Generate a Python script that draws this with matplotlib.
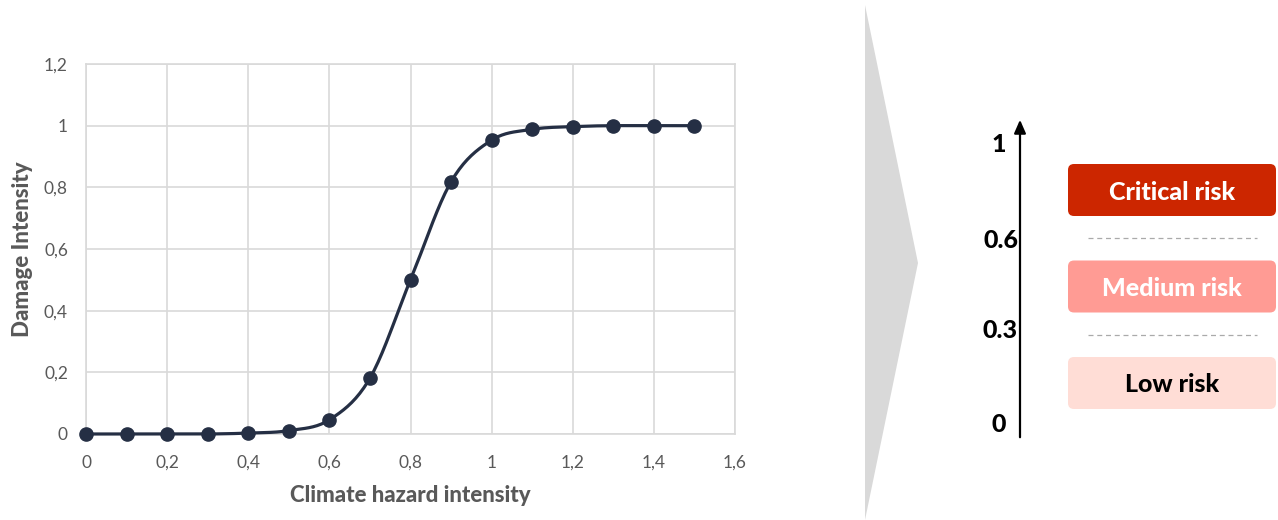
import numpy as np
import matplotlib
matplotlib.use("Agg")
import matplotlib.pyplot as plt
from matplotlib.patches import FancyBboxPatch, Polygon

plt.rcParams['font.family'] = ['Lato', 'DejaVu Sans']

# damage curve
hazard = [0.0, 0.1, 0.2, 0.3, 0.4, 0.5, 0.6, 0.7, 0.8, 0.9, 1.0, 1.1, 1.2, 1.3, 1.4, 1.5]
damage = [0.0, 0.0, 0.0, 0.0, 0.003, 0.011, 0.046, 0.181, 0.5, 0.818, 0.953, 0.988, 0.997, 1.0, 1.0, 1.0]
x_ticks = [0, 0.2, 0.4, 0.6, 0.8, 1.0, 1.2, 1.4, 1.6]
y_ticks = [0, 0.2, 0.4, 0.6, 0.8, 1.0, 1.2]

# risk scale on the right
scale_labels = ['1', '0.6', '0.3', '0']
risk_names = ['Critical risk', 'Medium risk', 'Low risk']
risk_colors = ['#cc2600', '#ff9b94', '#ffddd6']
risk_text_colors = ['white', 'white', 'black']

NAVY = '#252f44'
GRID = '#d9d9d9'
TXT = '#595959'


def smooth(xs, ys, n=20):
    # excel-like smoothed line (catmull-rom through the points)
    xs = np.asarray(xs, float)
    ys = np.asarray(ys, float)
    px = np.concatenate([[xs[0]], xs, [xs[-1]]])
    py = np.concatenate([[ys[0]], ys, [ys[-1]]])
    outx, outy = [], []
    t = np.linspace(0, 1, n, endpoint=False)
    for i in range(1, len(px) - 2):
        b0x, b0y = px[i], py[i]
        b3x, b3y = px[i + 1], py[i + 1]
        b1x = b0x + (px[i + 1] - px[i - 1]) / 6
        b1y = b0y + (py[i + 1] - py[i - 1]) / 6
        b2x = b3x - (px[i + 2] - px[i]) / 6
        b2y = b3y - (py[i + 2] - py[i]) / 6
        mt = 1 - t
        outx.extend(mt**3 * b0x + 3 * mt**2 * t * b1x + 3 * mt * t**2 * b2x + t**3 * b3x)
        outy.extend(mt**3 * b0y + 3 * mt**2 * t * b1y + 3 * mt * t**2 * b2y + t**3 * b3y)
    outx.append(xs[-1])
    outy.append(ys[-1])
    return outx, outy


W, H = 1278, 520
fig = plt.figure(figsize=(W / 100, H / 100), dpi=100)

ax = fig.add_axes([86 / W, (H - 434) / H, 649 / W, 370 / H])
sx, sy = smooth(hazard, damage)
ax.plot(sx, sy, color=NAVY, lw=2.3, zorder=3, solid_capstyle='round', clip_on=False)
ax.plot(hazard, damage, 'o', color=NAVY, ms=9.5, zorder=4, clip_on=False)
ax.set_xlim(0, 1.6)
ax.set_ylim(0, 1.2)
ax.set_xticks(x_ticks)
ax.set_yticks(y_ticks)
ax.set_xticklabels([('%g' % v).replace('.', ',') for v in x_ticks])
ax.set_yticklabels([('%g' % v).replace('.', ',') for v in y_ticks])
ax.tick_params(length=0, labelsize=12.5, labelcolor=TXT)
ax.tick_params(axis='x', pad=15)
ax.tick_params(axis='y', pad=13)
ax.grid(True, color=GRID, lw=1.2)
ax.set_axisbelow(True)
for s in ax.spines.values():
    s.set_color(GRID)
    s.set_linewidth(1.2)
ax.set_xlabel('Climate hazard intensity', fontsize=16, fontweight='black', color=TXT, labelpad=10)
ax.set_ylabel('Damage Intensity', fontsize=16, fontweight='black', color=TXT, labelpad=8)

# decoration layer in pixel coordinates
deco = fig.add_axes([0, 0, 1, 1], zorder=-1)
deco.set_xlim(0, W)
deco.set_ylim(H, 0)
deco.axis('off')
deco.add_patch(Polygon([[865, 5], [918, 263], [865, 520]], closed=True, color='#d9d9d9', lw=0))

top = fig.add_axes([0, 0, 1, 1])
top.set_xlim(0, W)
top.set_ylim(H, 0)
top.axis('off')
top.patch.set_alpha(0)

top.annotate('', xy=(1020, 117), xytext=(1020, 440),
             arrowprops=dict(arrowstyle='-|>,head_width=0.35,head_length=0.8', color='black', lw=1.6))
label_y = [144, 240, 330, 425]
for lab, yy in zip(scale_labels, label_y):
    top.text(1006 if len(lab) == 1 else 1018, yy, lab, ha='right', va='center',
             fontsize=18, fontweight='black', color='black')

for i, (name, c, tc) in enumerate(zip(risk_names, risk_colors, risk_text_colors)):
    y0 = 164 + i * 96.5
    box = FancyBboxPatch((1068, y0), 208, 52, boxstyle='round,pad=0,rounding_size=6',
                         fc=c, ec='none')
    top.add_patch(box)
    top.text(1172, y0 + 28, name, ha='center', va='center', fontsize=18,
             fontweight='black', color=tc)
    if i < len(risk_names) - 1:
        yd = y0 + 74
        top.plot([1088, 1257], [yd, yd], color='#aaaaaa', lw=0.9, ls=(0, (4, 3)))

fig.savefig('out.png', dpi=100)
